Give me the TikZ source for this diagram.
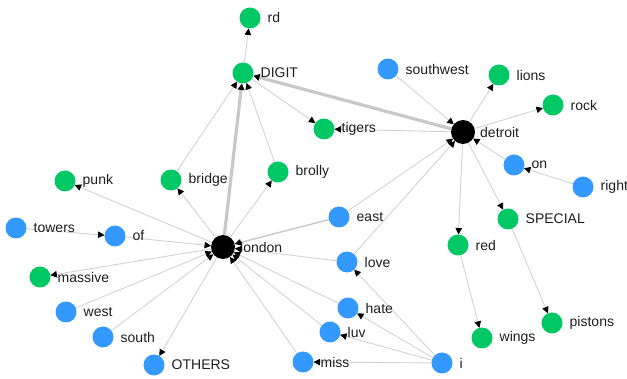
\documentclass[tikz,border=0pt]{standalone}
\usepackage{fontspec}
\setmainfont{Liberation Sans}
\usetikzlibrary{arrows.meta}
\pgfdeclarelayer{background}
\pgfsetlayers{background,main}

\definecolor{nodegreen}{RGB}{0,200,100}
\definecolor{nodeblue}{RGB}{51,153,255}
\definecolor{edgegray}{RGB}{210,210,210}
\definecolor{heavygray}{RGB}{200,200,200}
\definecolor{labeltext}{RGB}{30,30,30}

\tikzset{
  x=1pt, y=-1pt,
  vtx/.style={circle, inner sep=0pt, outer sep=0pt, minimum size=21pt,
    label={[lbltext, label distance=7pt]0:#1}},
  gnode/.style={vtx=#1, fill=nodegreen},
  bnode/.style={vtx=#1, fill=nodeblue},
  hub/.style={circle, inner sep=0pt, outer sep=0pt, minimum size=24pt, fill=black,
    label={[lbltext, label distance=5pt]0:#1}},
  lbltext/.style={inner sep=0pt, text=labeltext, font=\fontsize{14}{16}\selectfont},
  link/.style={draw=edgegray, line width=0.9pt, -{Triangle[length=6.5pt,width=6.5pt,black]}},
  midlink/.style={link, draw=heavygray, line width=1.4pt},
  heavylink/.style={link, draw=heavygray, line width=3.2pt}
}

\begin{document}
\begin{tikzpicture}
\useasboundingbox (0,0) rectangle (627,379);

% hubs
\node[hub=london]  (london)  at (223,247) {};
\node[hub=detroit] (detroit) at (463,132) {};

% category nodes
\node[gnode=rd]      (rd)      at (250,18)  {};
\node[gnode=DIGIT]   (digit)   at (243,73)  {};
\node[gnode=tigers]  (tigers)  at (324,129) {};
\node[gnode=lions]   (lions)   at (499,75)  {};
\node[gnode=rock]    (rock)    at (553,105) {};
\node[gnode=punk]    (punk)    at (65,181)  {};
\node[gnode=bridge]  (bridge)  at (171,180) {};
\node[gnode=brolly]  (brolly)  at (278,172) {};
\node[gnode=massive] (massive) at (40,277)  {};
\node[gnode=SPECIAL] (special) at (508,219) {};
\node[gnode=red]     (red)     at (458,245) {};
\node[gnode=wings]   (wings)   at (482,338) {};
\node[gnode=pistons] (pistons) at (552,323) {};

% word nodes
\node[bnode=southwest] (southwest) at (388,69)  {};
\node[bnode=on]        (on)        at (514,165) {};
\node[bnode=right]     (right)     at (583,187) {};
\node[bnode=towers]    (towers)    at (16,228)  {};
\node[bnode=of]        (of)        at (115,236) {};
\node[bnode=west]      (west)      at (66,312)  {};
\node[bnode=south]     (south)     at (103,337) {};
\node[bnode=OTHERS]    (others)    at (154,365) {};
\node[bnode=east]      (east)      at (339,217) {};
\node[bnode=love]      (love)      at (347,262) {};
\node[bnode=hate]      (hate)      at (348,308) {};
\node[bnode=luv]       (luv)       at (330,332) {};
\node[bnode=miss]      (miss)      at (303,362) {};
\node[bnode=i]         (i)         at (442,363) {};

\begin{pgfonlayer}{background}
  % heavy connections into DIGIT
  \draw[heavylink] (detroit) -- (digit);
  \draw[heavylink] (london) -- (digit);
  % DIGIT neighbourhood
  \draw[link] (digit) -- (rd);
  \draw[link] (bridge) -- (digit);
  \draw[link] (brolly) -- (digit);
  \draw[link] (digit) -- (tigers);
  % detroit neighbourhood
  \draw[link] (detroit) -- (tigers);
  \draw[link] (southwest) -- (detroit);
  \draw[link] (detroit) -- (lions);
  \draw[link] (detroit) -- (rock);
  \draw[link] (on) -- (detroit);
  \draw[link] (right) -- (on);
  \draw[link] (detroit) -- (red);
  \draw[link] (detroit) -- (special);
  \draw[link] (red) -- (wings);
  \draw[link] (special) -- (pistons);
  \draw[link] (east) -- (detroit);
  \draw[link] (love) -- (detroit);
  % london neighbourhood
  \draw[link] (london) -- (bridge);
  \draw[link] (london) -- (brolly);
  \draw[link] (london) -- (punk);
  \draw[link] (towers) -- (of);
  \draw[link] (of) -- (london);
  \draw[link] (london) -- (massive);
  \draw[link] (west) -- (london);
  \draw[link] (south) -- (london);
  \draw[link] (london) -- (others);
  \draw[midlink] (east) -- (london);
  \draw[link] (love) -- (london);
  \draw[link] (hate) -- (london);
  \draw[link] (luv) -- (london);
  \draw[link] (miss) -- (london);
  % i
  \draw[link] (i) -- (love);
  \draw[link] (i) -- (hate);
  \draw[link] (i) -- (luv);
  \draw[link] (i) -- (miss);
\end{pgfonlayer}
\end{tikzpicture}
\end{document}
